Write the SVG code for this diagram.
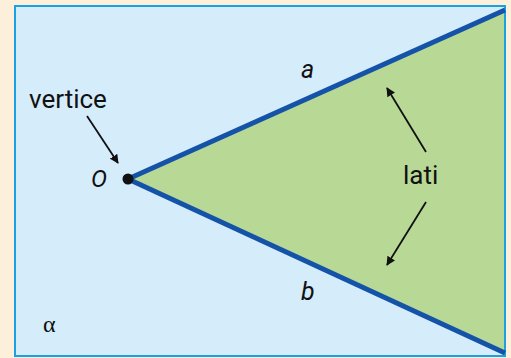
<svg xmlns="http://www.w3.org/2000/svg" width="511" height="358" viewBox="0 0 511 358">
<defs>
<style>
.t{font-family:Roboto,"Liberation Sans",sans-serif;fill:#111}
.i{font-style:italic}
.s{font-family:"Liberation Serif","DejaVu Serif",serif;fill:#111}
.arr{stroke:#111;stroke-width:1.8;fill:none;marker-end:url(#ah)}
.side{stroke:#1553A8;stroke-width:5;stroke-linecap:butt;fill:none}
</style>
<marker id="ah" viewBox="0 0 10 10" refX="9" refY="5" markerWidth="5" markerHeight="5" orient="auto" markerUnits="strokeWidth">
<path d="M0,0 L10,5 L0,10 z" fill="#111"/>
</marker>
</defs>
<rect x="0" y="0" width="511" height="358" fill="#FDF0DA"/>
<g id="plane">
<rect x="15" y="6" width="490" height="350" fill="#D5ECFA" stroke="#1BA1E2" stroke-width="2"/>
<text class="s" x="43" y="332" font-size="24">α</text>
</g>
<g id="angle">
<polygon points="128,179 504,10 504,352" fill="#B8D996"/>
</g>
<g id="connectors">
<line class="side" x1="128" y1="179" x2="505" y2="10"/>
<line class="side" x1="128" y1="179" x2="505" y2="353"/>
<line class="arr" x1="87" y1="116" x2="118" y2="163"/>
<line class="arr" x1="426" y1="152" x2="387" y2="88"/>
<line class="arr" x1="426" y1="202" x2="387" y2="265"/>
</g>
<g id="vertex">
<circle cx="128" cy="179" r="5.5" fill="#111"/>
<text class="t i" x="91" y="187" font-size="24">O</text>
</g>
<g id="label-vertice"><text class="t" x="29" y="108" font-size="26">vertice</text></g>
<g id="label-a"><text class="t i" x="301" y="78" font-size="25">a</text></g>
<g id="label-b"><text class="t i" x="301" y="300" font-size="25">b</text></g>
<g id="label-lati"><text class="t" x="403" y="184" font-size="26">lati</text></g>
</svg>
